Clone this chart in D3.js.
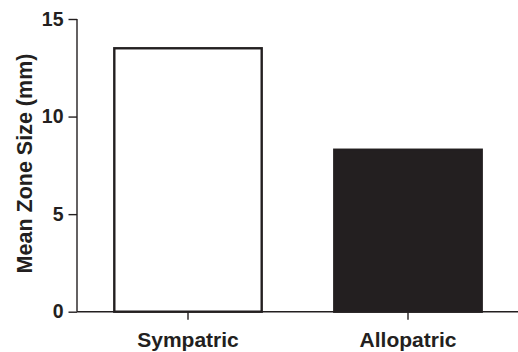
<!DOCTYPE html>
<html>
<head>
<meta charset="utf-8">
<script src="https://cdn.jsdelivr.net/npm/d3@7"></script>
<style>
  body { margin: 0; background: #fff; }
  svg { display: block; }
  text { font-family: "Liberation Sans", Arial, Helvetica, sans-serif; font-weight: bold; fill: #231f20; }
</style>
</head>
<body>
<div id="chart"></div>
<script>
const categories = ["Sympatric", "Allopatric"];
const values = [13.5, 8.3];
const fills = ["#ffffff", "#231f20"];
const yTicks = [0, 5, 10, 15];
const yTitle = "Mean Zone Size (mm)";

const width = 518, height = 352;
const ink = "#231f20";

const svg = d3.select("#chart").append("svg")
    .attr("width", width)
    .attr("height", height);

const x = d3.scaleBand()
    .domain(categories)
    .range([78, 518])
    .paddingInner(0.33)
    .paddingOuter(0.165);

const y = d3.scaleLinear()
    .domain([0, 15])
    .range([311.7, 19]);

// bars
svg.append("g").selectAll("rect")
    .data(categories)
    .join("rect")
    .attr("x", d => x(d))
    .attr("y", (d, i) => y(values[i]))
    .attr("width", x.bandwidth())
    .attr("height", (d, i) => y(0) - y(values[i]))
    .attr("fill", (d, i) => fills[i])
    .attr("stroke", ink)
    .attr("stroke-width", 2.4);

// y axis
const yAxis = svg.append("g")
    .attr("transform", "translate(77,0)")
    .call(d3.axisLeft(y).tickValues(yTicks).tickSize(8.5).tickPadding(5));
yAxis.select(".domain").attr("d", `M0,${y(15)}V${y(0)}`);
yAxis.selectAll("line, path").attr("stroke", ink).attr("stroke-width", 1.4);
yAxis.selectAll("text")
    .style("font-size", "19.5px")
    .attr("fill", ink);

// x axis
const xAxis = svg.append("g")
    .attr("transform", `translate(0,${y(0)})`)
    .call(d3.axisBottom(x).tickSize(8).tickPadding(12.5));
xAxis.select(".domain").attr("d", `M77,0H${width}`);
xAxis.selectAll("line, path").attr("stroke", ink).attr("stroke-width", 1.4);
xAxis.selectAll("text")
    .style("font-size", "21px")
    .attr("fill", ink);

// y title
svg.append("text")
    .attr("transform", `translate(31.5,${(52 + 275) / 2}) rotate(-90)`)
    .attr("text-anchor", "middle")
    .style("font-size", "21.5px")
    .text(yTitle);
</script>
</body>
</html>
